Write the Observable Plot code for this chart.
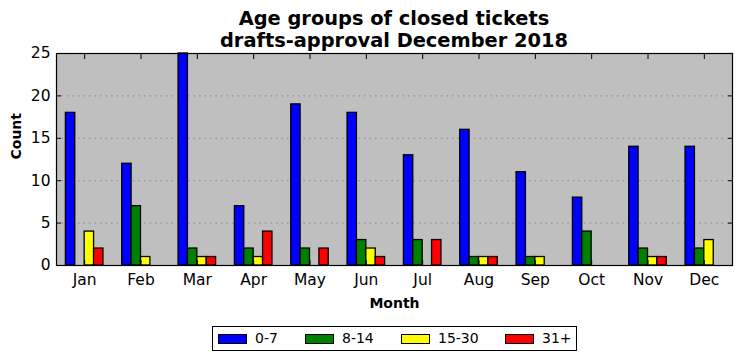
<!DOCTYPE html>
<html>
<head>
<meta charset="utf-8">
<script src="https://cdn.jsdelivr.net/npm/d3@7"></script>
<script src="https://cdn.jsdelivr.net/npm/@observablehq/plot@0.6"></script>
<style>
  body { margin: 0; background: #fff; }
  #wrap { position: relative; width: 742px; height: 361px; font-family: "DejaVu Sans", sans-serif; }
  #title { position: absolute; left: 56px; width: 676px; top: 8px; text-align: center; font-weight: bold; font-size: 19.4px; line-height: 22px; }
  #legend { position: absolute; left: 212px; top: 326px; width: 363px; height: 23px; border: 1px solid #000; background: #fff; font-size: 14px; }
  .item { position: absolute; top: 0; height: 23px; line-height: 23px; }
  .sw { position: absolute; top: 7px; width: 27px; height: 8px; border: 1px solid #000; }
  .lab { position: absolute; left: 37px; white-space: nowrap; }
</style>
</head>
<body>
<div id="wrap">
  <div id="chart"></div>
  <div id="title">Age groups of closed tickets<br>drafts-approval December 2018</div>
  <div id="legend"></div>
</div>
<script>
const months = ["Jan","Feb","Mar","Apr","May","Jun","Jul","Aug","Sep","Oct","Nov","Dec"];
const groups = ["0-7","8-14","15-30","31+"];
const colors = ["#0000ff","#008000","#ffff00","#ff0000"];
const age0_7   = [18,12,25,7,19,18,13,16,11,8,14,14];
const age8_14  = [0,7,2,2,2,3,3,1,1,4,2,2];
const age15_30 = [4,1,1,1,0,2,0,1,1,0,1,3];
const age31    = [2,0,1,4,2,1,3,1,0,0,1,0];
const yTicks = [0,5,10,15,20,25];

const series = [age0_7, age8_14, age15_30, age31];
const rows = [];
series.forEach((vals, k) => vals.forEach((v, i) => rows.push({month: i, k, group: groups[k], value: v})));

const chart = Plot.plot({
  width: 742,
  height: 361,
  marginTop: 53,
  marginBottom: 96,
  marginLeft: 56,
  marginRight: 10,
  style: {fontFamily: "DejaVu Sans, sans-serif", fontSize: "15px", background: "transparent"},
  x: {domain: [-0.5, 11.5]},
  y: {domain: [0, 25]},
  color: {domain: groups, range: colors},
  marks: [
    Plot.frame({fill: "#bfbfbf", stroke: null}),
    Plot.gridY([5,10,15,20], {stroke: "#888", strokeOpacity: 1, strokeDasharray: "1.5,4", strokeWidth: 1}),
    Plot.rectY(rows.filter(d => d.value > 0), {
      x1: d => d.month + (d.k - 2) / 6,
      x2: d => d.month + (d.k - 1) / 6,
      y1: 0,
      y2: "value",
      fill: "group",
      stroke: "#000",
      strokeWidth: 1.3
    }),
    Plot.axisY(yTicks, {anchor: "left", tickSize: -5, tickPadding: 11, fontSize: 15.5, label: null, color: "#000"}),
    Plot.axisY(yTicks, {anchor: "right", tickSize: -5, tickFormat: () => "", label: null}),
    Plot.axisX(d3.range(12), {anchor: "bottom", tickSize: -5, tickPadding: 13, fontSize: 15.5, tickFormat: i => months[i], label: null}),
    Plot.axisX(d3.range(12), {anchor: "top", tickSize: -5, tickFormat: () => "", label: null}),
    Plot.frame({stroke: "#000", strokeWidth: 1.2}),
    Plot.text(["Count"], {frameAnchor: "left", dx: -40, rotate: -90, fontWeight: "bold", fontSize: 14}),
    Plot.text(["Month"], {frameAnchor: "bottom", dy: 42, fontWeight: "bold", fontSize: 14})
  ]
});
document.getElementById("chart").appendChild(chart);

const legend = document.getElementById("legend");
const lefts = [5, 92, 188, 292];
groups.forEach((g, k) => {
  const item = document.createElement("div");
  item.className = "item";
  item.style.left = lefts[k] + "px";
  item.innerHTML = `<div class="sw" style="background:${colors[k]}"></div><span class="lab">${g}</span>`;
  legend.appendChild(item);
});
</script>
</body>
</html>
